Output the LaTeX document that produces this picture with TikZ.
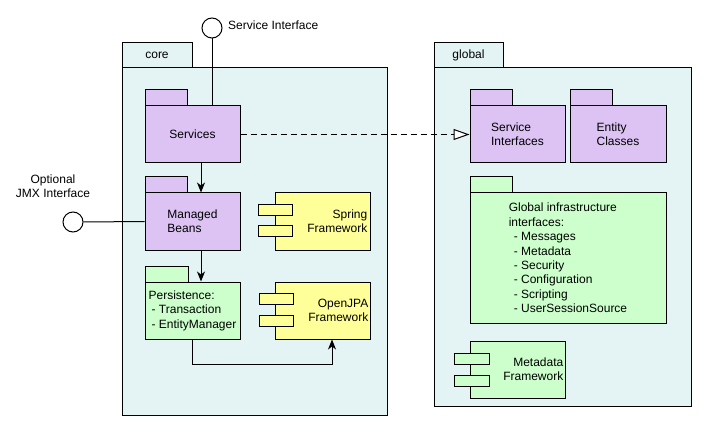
\documentclass[tikz,border=0pt]{standalone}
\usepackage{fontspec}
\setmainfont{Liberation Sans}
\usetikzlibrary{arrows.meta}
\definecolor{pkgbg}{HTML}{E4F4F4}
\definecolor{purp}{HTML}{DCC3F4}
\definecolor{grn}{HTML}{CCFFCC}
\definecolor{yel}{HTML}{FFFF99}
\tikzset{
  every node/.style={font=\fontsize{12pt}{14.4pt}\selectfont, inner sep=0pt},
  box/.style={draw, line width=1pt, minimum width=#1, minimum height=57pt},
  box/.default=95pt,
  tab/.style={draw, line width=1pt, minimum width=42pt, minimum height=16pt},
  comp/.style={draw, line width=1pt, minimum width=34pt, minimum height=11pt},
  iface/.style={draw, line width=1pt, circle, fill=white, minimum size=20pt},
  conn/.style={line width=1pt},
  arr/.style={conn, -{Stealth[length=10pt,width=8pt,inset=3pt]}},
}
\begin{document}
\begin{tikzpicture}[x=1pt,y=-1pt]
\useasboundingbox (0,0) rectangle (706,430);
\fill[white] (0,0) rectangle (706,430);

% core package
\node[draw, line width=1pt, fill=pkgbg, minimum width=70pt, minimum height=25pt] (coretab) at (157,55.5) {core};
\node[draw, line width=1pt, fill=pkgbg, minimum width=265pt, minimum height=347pt] (corebody) at (254.5,241.5) {};

% global package
\node[draw, line width=1pt, fill=pkgbg, minimum width=69pt, minimum height=25pt] (globaltab) at (468.5,55.5) {global};
\node[draw, line width=1pt, fill=pkgbg, minimum width=257pt, minimum height=338pt] (globalbody) at (562.5,237) {};

% core contents
\node[tab, fill=purp] (servtab) at (166,98) {};
\node[box, fill=purp] (serv) at (192.5,134.5) {Services};

\node[tab, fill=purp] (mbtab) at (166,185) {};
\node[box, fill=purp, align=left] (mb) at (192.5,221.5) {Managed\\Beans};

\node[tab, fill=grn, minimum width=43pt] (perstab) at (166.5,274) {};
\node[box, fill=grn, align=left] (pers) at (192.5,310.5) {Persistence:\\\hspace{3pt}- Transaction\\\hspace{3pt}- EntityManager};

\node[box, fill=yel, label={[anchor=east, align=right, inner sep=0pt, xshift=-3pt]east:{Spring\\Framework}}] (spring) at (322.5,221.5) {};
\node[comp, fill=yel] (springc1) at (275,210.5) {};
\node[comp, fill=yel] (springc2) at (275,231.5) {};

\node[box, fill=yel, label={[anchor=east, align=right, inner sep=0pt, xshift=-2pt]east:{OpenJPA\\Framework}}] (jpa) at (322.5,310.5) {};
\node[comp, fill=yel] (jpac1) at (276,298.5) {};
\node[comp, fill=yel] (jpac2) at (276,320.5) {};

% global contents
\node[tab, fill=purp] (sitab) at (491,98) {};
\node[box, fill=purp, align=left] (si) at (517.5,134.5) {Service\\Interfaces};

\node[tab, fill=purp] (ectab) at (591,98) {};
\node[box=96pt, fill=purp, align=left] (ec) at (618,134.5) {Entity\\Classes};

\node[tab, fill=grn] (gitab) at (491,185) {};
\node[draw, line width=1pt, fill=grn, minimum width=196pt, minimum height=130pt, align=left] (gi) at (568,258)
  {Global infrastructure\\interfaces:\\\hspace{5pt}- Messages\\\hspace{5pt}- Metadata\\\hspace{5pt}- Security\\\hspace{5pt}- Configuration\\\hspace{5pt}- Scripting\\\hspace{5pt}- UserSessionSource};

\node[box, fill=grn, label={[anchor=east, align=right, inner sep=0pt, xshift=-2pt]east:{Metadata\\Framework}}] (meta) at (517.5,369.5) {};
\node[comp, fill=grn, minimum width=35pt] (metac1) at (471.5,358.5) {};
\node[comp, fill=grn, minimum width=35pt] (metac2) at (471.5,380.5) {};

% interfaces
\node[iface] (sic) at (212,28) {};
\node[anchor=west] (siclabel) at (228,25) {Service Interface};
\node[iface] (jmx) at (73,222) {};
\node[align=center] (jmxlabel) at (53,186.5) {Optional\\JMX Interface};

% connectors
\draw[conn] (sic.south) -- (sic |- serv.north);
\draw[conn] (jmx.east) -- (mb.west);
\draw[arr] ([xshift=8.5pt]serv.south) -- ([xshift=8.5pt]mb.north);
\draw[arr] ([xshift=8.5pt]mb.south) -- ([xshift=8.5pt]pers.north);
\draw[arr] (pers.south) -- ++(0,25) -| ([xshift=9.5pt]jpa.south);
\draw[conn, dash pattern=on 6pt off 4pt, -{Triangle[open, length=16pt, width=11pt, fill=white]}] (serv.east) -- (si.west);
\end{tikzpicture}
\end{document}
